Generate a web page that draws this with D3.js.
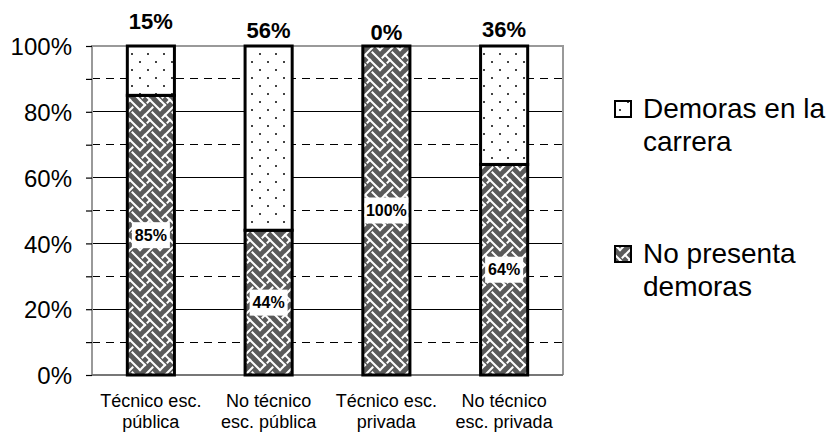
<!DOCTYPE html>
<html><head><meta charset="utf-8">
<script src="https://cdn.jsdelivr.net/npm/d3@7"></script>
<style>body{margin:0;background:#fff}</style>
</head><body><svg id="c" width="838" height="434"></svg>
<script>
// ---- data ----
const categories = ["Técnico esc. pública","No técnico esc. pública","Técnico esc. privada","No técnico esc. privada"];
const categoryLines = [["Técnico esc.","pública"],["No técnico","esc. pública"],["Técnico esc.","privada"],["No técnico","esc. privada"]];
const noPresenta = [85,44,100,64];
const demoras = [15,56,0,36];
const yTicks = [0,20,40,60,80,100];
const minorTicks = [10,30,50,70,90];
const seriesNames = [["Demoras en la","carrera"],["No presenta","demoras"]];

// ---- layout ----
const topLabelBaseline = [29,38,40,37];
const svg = d3.select("#c");
const X0 = 92, X1 = 563, YT = 46, YB = 375;
const x = d3.scaleBand().domain(categories).range([X0, X1]).paddingInner(0.6).paddingOuter(0.3);
const y = d3.scaleLinear().domain([0,100]).range([YB, YT]);
const font = "Arial, 'Liberation Sans', sans-serif";

// patterns
const defs = svg.append("defs");
const S = 2.5, T = 8*S;
const weaveSegs = [[0,0,2,2],[2,2,0,4],[4,0,8,4],[3,1,4,0],[5,3,1,7],[5,5,8,8],[2,6,4,8]];
const pw = defs.append("pattern").attr("id","weave").attr("patternUnits","userSpaceOnUse")
  .attr("width",T).attr("height",T);
pw.append("rect").attr("width",T).attr("height",T).attr("fill","#5a5a5a");
[-8,0,8].forEach(ox=>[-8,0,8].forEach(oy=>{
  weaveSegs.forEach(([a,b,c,d])=>pw.append("line")
    .attr("x1",(a+ox)*S).attr("y1",(b+oy)*S).attr("x2",(c+ox)*S).attr("y2",(d+oy)*S)
    .attr("stroke","#fff").attr("stroke-width",2).attr("stroke-linecap","square"));
}));
const pd = defs.append("pattern").attr("id","dots").attr("patternUnits","userSpaceOnUse")
  .attr("width",16).attr("height",16);
pd.append("rect").attr("width",16).attr("height",16).attr("fill","#fff");
[[3,5],[11,13]].forEach(([a,b])=>pd.append("rect").attr("x",a).attr("y",b).attr("width",2).attr("height",2).attr("fill","#444"));

// gridlines
svg.append("g").selectAll("line").data(yTicks.filter(d=>d>0&&d<100)).join("line")
  .attr("x1",X0).attr("x2",X1).attr("y1",d=>y(d)).attr("y2",d=>y(d))
  .attr("stroke","#000").attr("stroke-width",1).attr("shape-rendering","crispEdges");
svg.append("g").selectAll("line").data(minorTicks).join("line")
  .attr("x1",X0).attr("x2",X1).attr("y1",d=>y(d)).attr("y2",d=>y(d))
  .attr("stroke","#000").attr("stroke-width",1).attr("stroke-dasharray","8,6").attr("shape-rendering","crispEdges");

// frame
svg.append("path").attr("d",`M${X0},${YB}V${YT}H${X1}V${YB}`).attr("fill","none")
  .attr("stroke","#999").attr("stroke-width",2);
svg.append("line").attr("x1",X0).attr("x2",X1).attr("y1",YB).attr("y2",YB)
  .attr("stroke","#777").attr("stroke-width",2);

// y axis
const yAxis = d3.axisLeft(y).tickValues(d3.range(0,101,10)).tickSize(6).tickFormat(d=>yTicks.includes(d)?d+"%":"");
const ga = svg.append("g").attr("transform",`translate(${X0},0)`).call(yAxis);
ga.select(".domain").remove();
ga.selectAll(".tick line").attr("stroke","#000").attr("stroke-width",1.2);
ga.selectAll(".tick text").attr("x",-20).attr("dy","0.36em").attr("font-family",font).attr("font-size",24).attr("fill","#000");

// bars
const bw = x.bandwidth();
const gb = svg.append("g");
categories.forEach((c,i)=>{
  const xi = x(c);
  gb.append("rect").attr("x",xi).attr("width",bw).attr("y",y(noPresenta[i])).attr("height",YB-y(noPresenta[i]))
    .attr("fill","url(#weave)").attr("stroke","#000").attr("stroke-width",3);
  if(demoras[i]>0)
    gb.append("rect").attr("x",xi).attr("width",bw).attr("y",y(noPresenta[i]+demoras[i])).attr("height",y(noPresenta[i])-y(noPresenta[i]+demoras[i]))
      .attr("fill","url(#dots)").attr("stroke","#000").attr("stroke-width",3);
});

// inner labels
categories.forEach((c,i)=>{
  const cx = x(c)+bw/2, cy = (y(0)+y(noPresenta[i]))/2;
  const t = svg.append("text").attr("x",cx).attr("y",cy).attr("dy","0.36em").attr("text-anchor","middle")
    .attr("font-family",font).attr("font-weight","bold").attr("font-size",16).text(noPresenta[i]+"%");
  const w = Math.min(t.node().getComputedTextLength()+6, bw-3);
  svg.insert("rect", () => t.node()).attr("x",cx-w/2).attr("y",cy-13).attr("width",w).attr("height",26).attr("fill","#fff");
});

// top labels
categories.forEach((c,i)=>{
  svg.append("text").attr("x",x(c)+bw/2).attr("y",topLabelBaseline[i]).attr("text-anchor","middle")
    .attr("font-family",font).attr("font-weight","bold").attr("font-size",22).text(demoras[i]+"%");
});

// x labels
categories.forEach((c,i)=>{
  const t = svg.append("text").attr("text-anchor","middle").attr("font-family",font).attr("font-size",18);
  categoryLines[i].forEach((l,k)=>t.append("tspan").attr("x",x(c)+bw/2).attr("y",407+k*21).text(l));
});

// legend
const legendFill = ["url(#dots)","url(#weave)"];
const legendBase = [118, 263];
seriesNames.forEach((lines,k)=>{
  svg.append("rect").attr("x",615).attr("y",legendBase[k]-17).attr("width",16).attr("height",16)
    .attr("fill",legendFill[k]).attr("stroke","#000").attr("stroke-width",2);
  const t = svg.append("text").attr("font-family",font).attr("font-size",28);
  lines.forEach((l,j)=>t.append("tspan").attr("x",643).attr("y",legendBase[k]+j*33).text(l));
});
</script></body></html>
